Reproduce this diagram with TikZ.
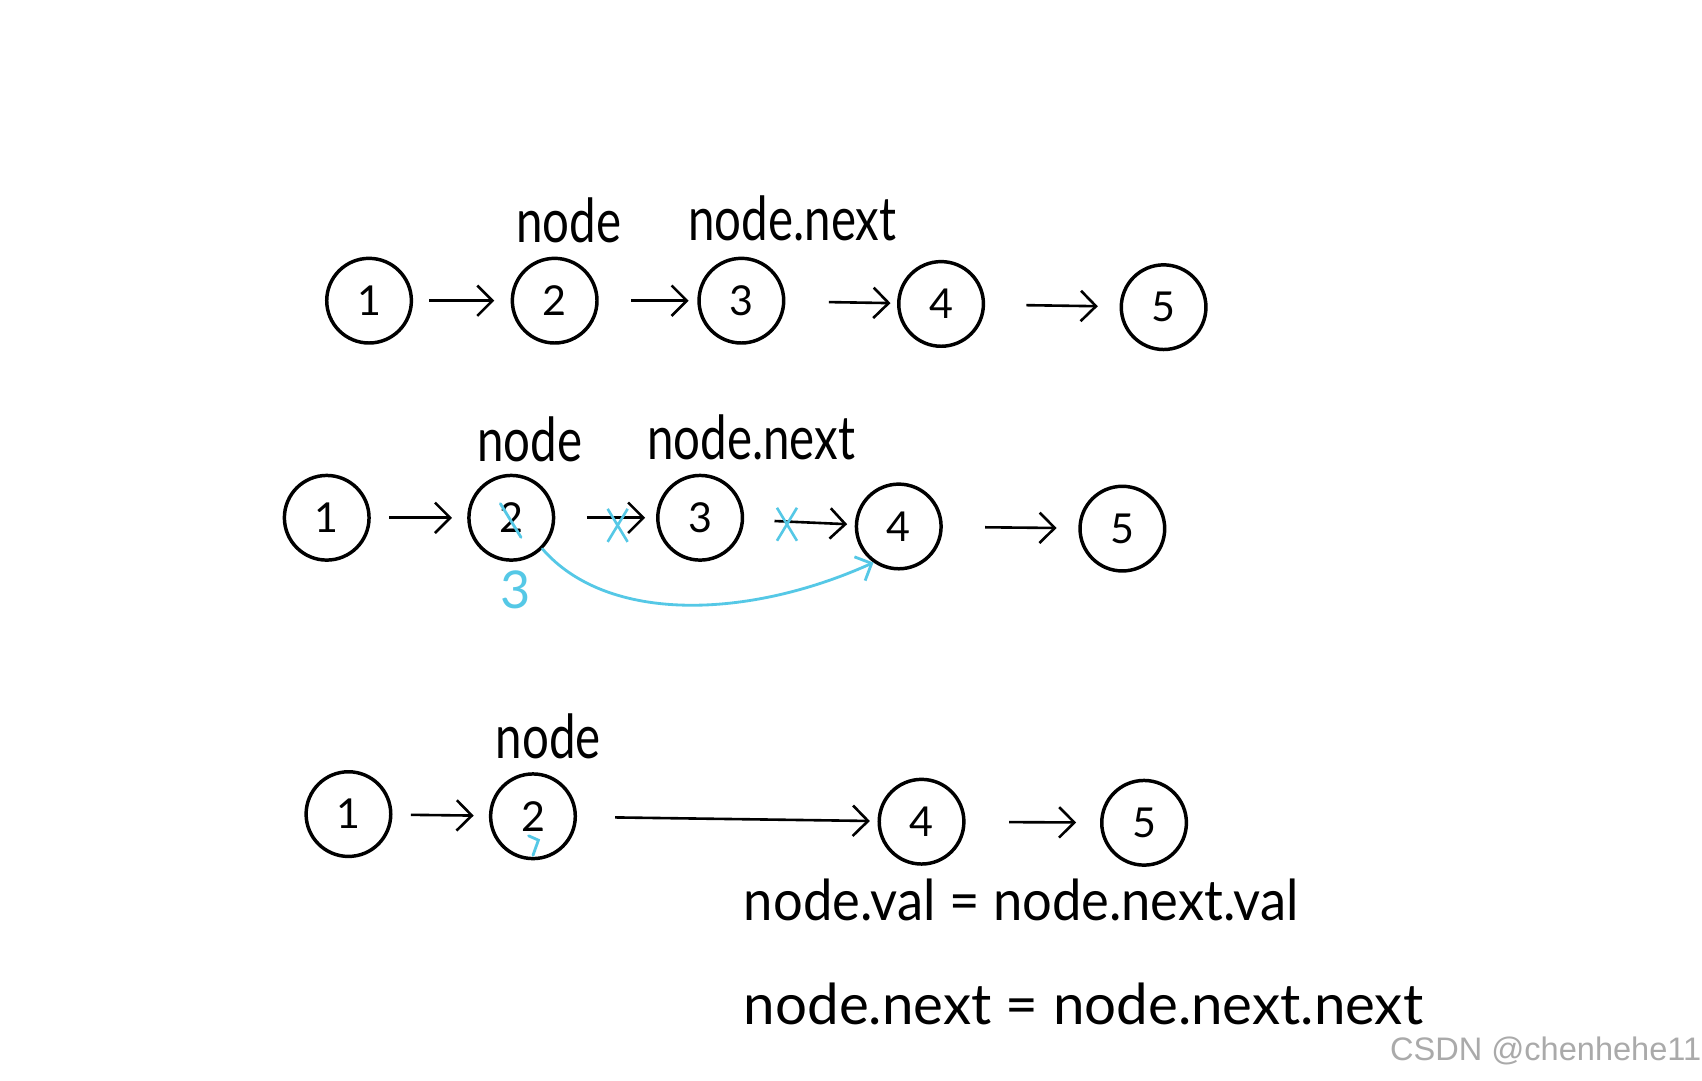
\documentclass[tikz,border=0pt]{standalone}
\usepackage{fontspec}
\setmainfont{Lato}
\newfontfamily\wmfont{Liberation Sans}
\usetikzlibrary{arrows.meta,shapes.misc,calc}
\definecolor{handblue}{RGB}{85,200,230}
\definecolor{wmgray}{RGB}{170,170,170}
\begin{document}
\begin{tikzpicture}[x=0.5pt,y=-0.5pt,
  ball/.style={circle,draw,line width=1.6pt,minimum size=39pt,inner sep=0pt,font=\fontsize{19}{19}\selectfont},
  link/.style={line width=1.2pt,-{Straight Barb[length=7pt,width=14pt,line width=1.2pt]}},
  lbl/.style={font=\fontsize{28}{28}\selectfont,inner sep=0pt},
  formula/.style={font=\fontsize{26}{26}\selectfont,inner sep=0pt,anchor=base west},
  bluepen/.style={draw=handblue,line width=1.3pt,line cap=round},
  crossmark/.style={cross out,draw=handblue,line width=1.2pt,minimum width=8pt,minimum height=14pt,inner sep=0pt}]
\useasboundingbox[fill=white] (0,0) rectangle (1568,995);

% ---------- row 1 ----------
\node[ball] (a1) at (340,277) {1};
\node[ball] (a2) at (511,277) {2};
\node[ball] (a3) at (683,277) {3};
\node[ball] (a4) at (867,280) {4};
\node[ball] (a5) at (1072,283) {5};
\node[lbl] (la2) at (524,203) {\scalebox{0.78}[1]{node}};
\node[lbl] (la3) at (730,201) {\scalebox{0.78}[1]{node.next}};
\draw[link,shorten <=7.5pt,shorten >=7.5pt] (a1) -- (a2);
\draw[link,shorten <=15pt,shorten >=4pt] (a2) -- (a3);
\draw[link,shorten <=20pt,shorten >=3pt] (a3) -- (a4);
\draw[link,shorten <=19pt,shorten >=10pt] (a4) -- (a5);

% ---------- row 2 ----------
\node[ball] (b1) at (301,477) {1};
\node[ball] (b2) at (471,477) {2};
\node[ball] (b3) at (645,477) {3};
\node[ball] (b4) at (828,485) {4};
\node[ball] (b5) at (1034,487) {5};
\node[lbl] (lb2) at (488,405) {\scalebox{0.78}[1]{node}};
\node[lbl] (lb3) at (692,403) {\scalebox{0.78}[1]{node.next}};
\draw[link,shorten <=8.5pt,shorten >=7pt] (b1) -- (b2);
\draw[link,shorten <=14.5pt,shorten >=5pt] (b2) -- (b3);
\draw[link,shorten <=14pt,shorten >=3.5pt] (b3) -- (b4);
\draw[link,shorten <=19.5pt,shorten >=10pt] (b4) -- (b5);
\node[crossmark] (x1) at (569,484) {};
\node[crossmark] (x2) at (725,483) {};
\draw[bluepen] ($(b2)+(-10,-13)$) -- ($(b2)+(9,18)$);
\node[text=handblue,font=\fontsize{24}{24}\selectfont,inner sep=0pt] (b3lbl) at (475,543) {3};
\draw[bluepen,-{Straight Barb[length=6pt,width=12pt,line width=1.3pt]}]
  (b2.-45) .. controls (560,575) and (690,570) .. (b4.235);

% ---------- row 3 ----------
\node[ball] (c1) at (321,750) {1};
\node[ball] (c2) at (491,752) {2};
\node[ball] (c4) at (849,757) {4};
\node[ball] (c5) at (1054,758) {5};
\node[lbl] (lc2) at (505,678) {\scalebox{0.78}[1]{node}};
\draw[link,shorten <=8.5pt,shorten >=7pt] (c1) -- (c2);
\draw[link,shorten <=17.5pt,shorten >=3.5pt] (c2) -- (c4);
\draw[link,shorten <=20pt,shorten >=11pt] (c4) -- (c5);
\draw[bluepen] ($(c2)+(-4,18)$) -- ($(c2)+(5,22)$) -- ($(c2)+(0,36)$);

% ---------- formulas ----------
\node[formula] (f1) at (685,848) {\scalebox{0.93}[1]{node.val = node.next.val}};
\node[formula] (f2) at (685,944) {\scalebox{1.0}[1]{node.next = node.next.next}};

% ---------- watermark ----------
\node[text=wmgray,font=\wmfont\fontsize{15}{15}\selectfont,inner sep=0pt] (wm) at (1424,968) {CSDN @chenhehe11};
\end{tikzpicture}
\end{document}
